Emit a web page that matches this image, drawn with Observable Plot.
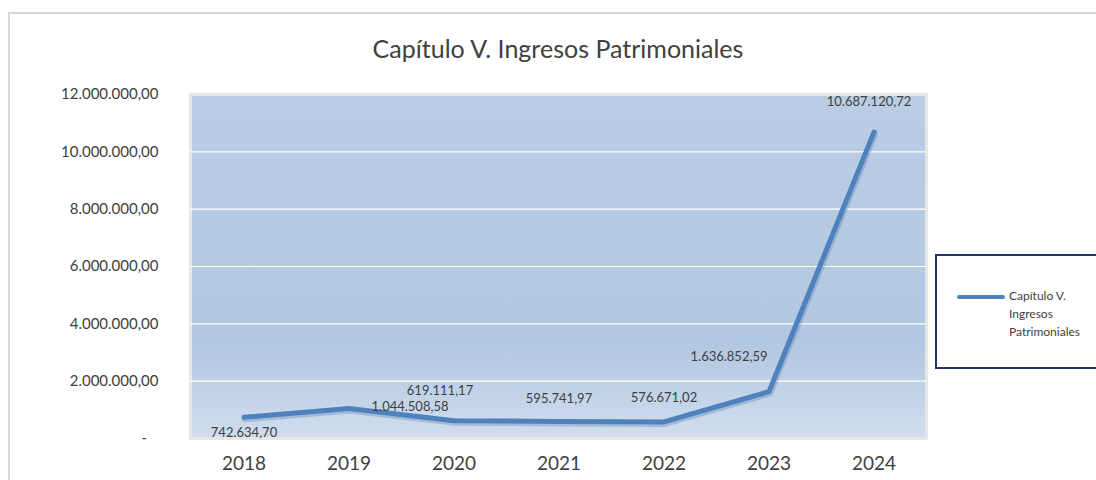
<!DOCTYPE html>
<html><head><meta charset="utf-8">
<script src="https://cdn.jsdelivr.net/npm/d3@7"></script>
<script src="https://cdn.jsdelivr.net/npm/@observablehq/plot@0.6"></script>
<style>
body{margin:0;background:#fff;font-family:Lato,"Open Sans",sans-serif;}
#wrap{position:relative;width:1096px;height:480px;overflow:hidden;}
#frame{position:absolute;left:8px;top:12px;width:1200px;height:600px;border:2px solid #d9d9d9;box-sizing:border-box;}
#chart{position:absolute;left:0;top:0;}
#title{position:absolute;left:0;width:1116px;top:33px;text-align:center;font-size:25px;color:#404040;font-weight:400;}
#legend{position:absolute;left:935px;top:254px;width:200px;height:115px;border:2px solid #1f3864;box-sizing:border-box;background:#fff;}
#legend .sw{position:absolute;left:20px;top:39px;width:48px;height:4px;background:#4f81bd;border-radius:2px;}
#legend .lb{position:absolute;left:72px;top:31px;font-size:12px;line-height:18px;color:#404040;}
</style></head>
<body>
<div id="wrap">
  <div id="frame"></div>
  <div id="chart"></div>
  <div id="title">Capítulo V. Ingresos Patrimoniales</div>
  <div id="legend"><div class="sw"></div><div class="lb">Capítulo V.<br>Ingresos<br>Patrimoniales</div></div>
</div>
<script>
const years = ["2018","2019","2020","2021","2022","2023","2024"];
const values = [742634.70, 1044508.58, 619111.17, 595741.97, 576671.02, 1636852.59, 10687120.72];
const yTicks = [0, 2000000, 4000000, 6000000, 8000000, 10000000, 12000000];

const locale = d3.formatLocale({decimal: ",", thousands: ".", grouping: [3], currency: ["", ""]});
const fmt = locale.format(",.2f");
const data = years.map((year, i) => ({year, value: values[i]}));

// label placement offsets (styling, like Excel's data-label positions)
const labelOffsets = [[0, 16], [61, -2], [-14, -30], [0, -23], [0, -24], [-40, -35], [-5, -30]];

const chart = Plot.plot({
  width: 1096, height: 480,
  marginLeft: 190, marginRight: 170, marginTop: 94, marginBottom: 42,
  style: {fontFamily: "Lato, 'Open Sans', sans-serif", background: "transparent", color: "#404040"},
  x: {type: "band", domain: years, padding: 0, label: null},
  y: {domain: [0, 12000000], label: null},
  marks: [
    Plot.frame({fill: "url(#bggrad)", stroke: "#e6e6e6", strokeWidth: 3}),
    Plot.gridY(yTicks.filter(t => t > 0 && t < 12000000), {stroke: "#ffffff", strokeOpacity: 1, strokeWidth: 1.2}),
    Plot.axisY(yTicks, {tickSize: 0, tickPadding: 32, fontSize: 15, fill: "#404040",
      tickFormat: d => d === 0 ? "-\u00a0\u00a0\u00a0" : fmt(d)}),
    Plot.axisX({tickSize: 0, tickPadding: 18, fontSize: 19, fill: "#404040"}),
    Plot.line(data, {x: "year", y: "value", stroke: "#2f5f9a", strokeOpacity: 0.25, strokeWidth: 6, dx: 1, dy: 2, strokeLinecap: "round", strokeLinejoin: "round"}),
    Plot.line(data, {x: "year", y: "value", stroke: "#4f81bd", strokeWidth: 5, strokeLinecap: "round", strokeLinejoin: "round"}),
    ...data.map((d, i) => Plot.text([d], {x: "year", y: "value", text: r => fmt(r.value),
      dx: labelOffsets[i][0], dy: labelOffsets[i][1], fontSize: 13, fill: "#404040"}))
  ]
});

const svg = d3.select(chart);
const defs = svg.insert("defs", ":first-child");
const g = defs.append("linearGradient").attr("id", "bggrad").attr("x1", 0).attr("y1", 0).attr("x2", 0).attr("y2", 1);
g.append("stop").attr("offset", "0%").attr("stop-color", "#b9cde5");
g.append("stop").attr("offset", "72%").attr("stop-color", "#b2c7e1");
g.append("stop").attr("offset", "100%").attr("stop-color", "#d0ddee");
document.getElementById("chart").appendChild(chart);
</script>
</body></html>
